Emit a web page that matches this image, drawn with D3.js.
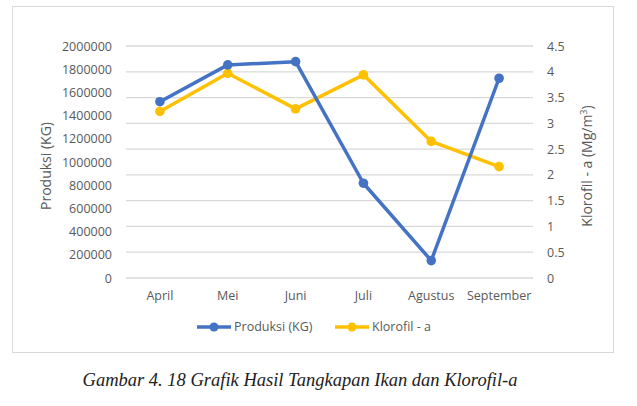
<!DOCTYPE html>
<html>
<head>
<meta charset="utf-8">
<script src="https://cdn.jsdelivr.net/npm/d3@7"></script>
<style>
  body { margin: 0; background: #fff; }
  .axis text { font-family: "Open Sans", sans-serif; font-size: 12.5px; fill: #595959; }
  .axis path, .axis line { display: none; }
  .grid line { stroke: #d9d9d9; stroke-width: 1.3; }
</style>
</head>
<body>
<div id="chart"></div>
<script>
// Data
const months = ['April', 'Mei', 'Juni', 'Juli', 'Agustus', 'September'];
const produksi = [1520000, 1837000, 1865000, 817000, 150000, 1722000];
const klorofil = [3.23, 3.97, 3.28, 3.94, 2.65, 2.16];
const leftTicks = [0, 200000, 400000, 600000, 800000, 1000000, 1200000, 1400000, 1600000, 1800000, 2000000];
const rightTicks = [0, 0.5, 1, 1.5, 2, 2.5, 3, 3.5, 4, 4.5];

const W = 637, H = 406;
const margin = {top: 46, right: 104, bottom: 128, left: 126};
const width = W - margin.left - margin.right;
const height = H - margin.top - margin.bottom;
const blue = '#4472c4', yellow = '#ffc000';

const svg = d3.select('#chart').append('svg')
    .attr('width', W)
    .attr('height', H);

// outer chart frame
svg.append('rect')
    .attr('x', 12.5).attr('y', 6.5)
    .attr('width', 601).attr('height', 346)
    .attr('fill', '#fff')
    .attr('stroke', '#d9d9d9');

const chart = svg.append('g')
    .attr('transform', `translate(${margin.left},${margin.top})`);

const xScale = d3.scaleBand().domain(months).range([0, width]);
const yLeft = d3.scaleLinear().domain([0, 2000000]).range([height, 0]);
const yRight = d3.scaleLinear().domain([0, 4.5]).range([height, 0]);

// gridlines
chart.append('g').attr('class', 'grid')
  .selectAll('line')
  .data(rightTicks)
  .join('line')
    .attr('x1', 0).attr('x2', width)
    .attr('y1', d => yRight(d)).attr('y2', d => yRight(d));

// axes
chart.append('g').attr('class', 'axis')
    .call(d3.axisLeft(yLeft).tickValues(leftTicks).tickFormat(d3.format('d')).tickSize(0).tickPadding(14));

chart.append('g').attr('class', 'axis')
    .attr('transform', `translate(${width},0)`)
    .call(d3.axisRight(yRight).tickValues(rightTicks).tickFormat(d => String(d)).tickSize(0).tickPadding(14));

chart.append('g').attr('class', 'axis')
    .attr('transform', `translate(0,${height})`)
    .call(d3.axisBottom(xScale).tickSize(0).tickPadding(13));

// axis titles
svg.append('text')
    .attr('transform', 'translate(51,166) rotate(-90)')
    .attr('text-anchor', 'middle')
    .style('font-family', '"Open Sans", sans-serif')
    .style('font-size', '14px')
    .style('fill', '#595959')
    .text('Produksi (KG)');

const rt = svg.append('text')
    .attr('transform', 'translate(592,166) rotate(-90)')
    .attr('text-anchor', 'middle')
    .style('font-family', '"Open Sans", sans-serif')
    .style('font-size', '14px')
    .style('fill', '#595959');
rt.append('tspan').text('Klorofil - a (Mg/m');
rt.append('tspan').attr('dy', -5).style('font-size', '9px').text('3');
rt.append('tspan').attr('dy', 5).text(')');

// series
const cx = d => xScale(d) + xScale.bandwidth() / 2;
const series = [
  {name: 'Produksi (KG)', values: produksi, y: yLeft, color: blue},
  {name: 'Klorofil - a', values: klorofil, y: yRight, color: yellow}
];

series.slice().reverse().forEach(s => {
  const line = d3.line()
      .x((d, i) => cx(months[i]))
      .y(d => s.y(d));
  chart.append('path')
      .datum(s.values)
      .attr('fill', 'none')
      .attr('stroke', s.color)
      .attr('stroke-width', 3.5)
      .attr('stroke-linejoin', 'round')
      .attr('d', line);
  chart.selectAll(null)
      .data(s.values)
      .join('circle')
      .attr('cx', (d, i) => cx(months[i]))
      .attr('cy', d => s.y(d))
      .attr('r', 4.8)
      .attr('fill', s.color);
});

// legend
const legend = svg.append('g').attr('transform', 'translate(197,327)');
const legendX = [0, 138];
series.forEach((s, i) => {
  const g = legend.append('g').attr('transform', `translate(${legendX[i]},0)`);
  g.append('line')
      .attr('x1', 0).attr('x2', 34)
      .attr('stroke', s.color).attr('stroke-width', 3.5);
  g.append('circle').attr('cx', 17).attr('r', 4.5).attr('fill', s.color);
  g.append('text')
      .attr('x', 37).attr('dy', '0.35em')
      .style('font-family', '"Open Sans", sans-serif')
      .style('font-size', '12.5px')
      .style('fill', '#595959')
      .text(s.name);
});

// caption
svg.append('text')
    .attr('x', 300).attr('y', 386)
    .attr('text-anchor', 'middle')
    .style('font-family', '"Liberation Serif", serif')
    .style('font-style', 'italic')
    .style('font-size', '18.5px')
    .style('fill', '#222')
    .text('Gambar 4. 18 Grafik Hasil Tangkapan Ikan dan Klorofil-a');
</script>
</body>
</html>
